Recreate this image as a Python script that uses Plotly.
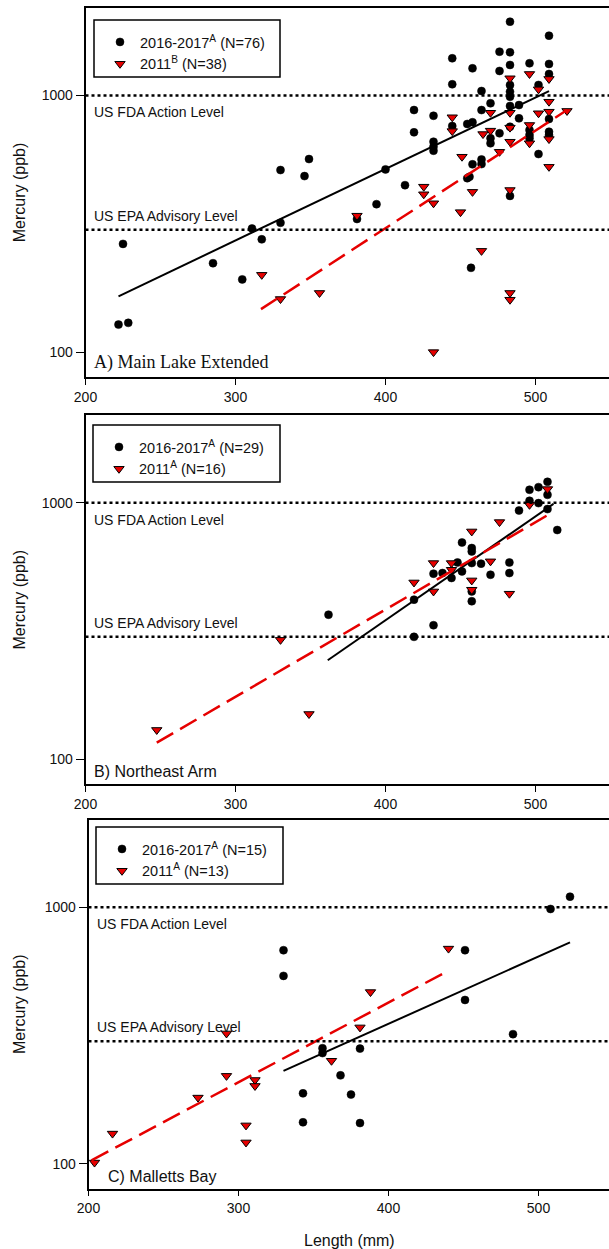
import numpy as np
import plotly.graph_objects as go

W, H = 609, 1249

# ---------------- data (Length mm, Mercury ppb) ----------------
# Panel A: Main Lake Extended
a16_len = [222, 228.5, 225, 285, 304.5, 311, 317.5, 330, 330, 346, 349, 381, 394, 400, 413,
           419, 419, 432, 432, 432, 432, 444.5, 444.5, 444.5, 454.5, 458, 458, 458, 456, 454.5,
           464, 464, 464, 464, 470, 470, 470, 476, 476, 476, 483, 483, 483, 483, 483, 483, 483,
           483, 483, 489, 489, 496, 496, 496, 496, 502, 502, 509, 509, 509, 509, 509, 509, 457]
a16_hg = [128, 130, 264, 222, 192, 303, 275, 512, 319, 485, 565, 330, 377, 515, 447,
          877, 718, 833, 660, 631, 609, 1395, 1105, 760, 774, 786, 1275, 539, 482, 476,
          1040, 877, 563, 540, 932, 681, 651, 1480, 1245, 712, 1937, 1472, 1314, 1097, 1034, 988, 909,
          755, 406, 917, 814, 1334, 733, 701, 681, 1098, 591, 1709, 1326, 1212, 809, 722, 701, 213]
a11_len = [317.5, 330, 356, 381, 425.5, 425.5, 432, 432, 444.5, 444.5, 458, 465, 470, 470, 476,
           483, 483, 483, 483, 483, 496, 496, 496, 502, 502, 509, 509, 509, 509, 509, 521, 451,
           450, 464, 483, 483]
a11_hg = [200, 161, 170, 340, 441, 412, 380, 100, 822, 726, 421, 707, 856, 729, 603,
          1166, 856, 749, 660, 428, 1212, 767, 651, 1056, 852, 1159, 945, 864, 676, 527, 870, 577,
          351, 248, 170, 160]
a16_fit_len = [222, 509]
a16_fit_hg = [165, 1040]
a11_fit_len = [317, 521]
a11_fit_hg = [147, 877]

# Panel B: Northeast Arm
b16_len = [508, 502, 496, 508, 496, 502, 489, 508, 514.5, 451, 457.5, 457.5, 448, 451, 444,
           438, 432, 457.5, 463.7, 470, 482.6, 482.6, 457.5, 457.5, 419, 432, 419, 362]
b16_hg = [1207, 1151, 1124, 1074, 1018, 997, 933, 945, 783, 700, 666, 646, 585, 540, 509,
          532, 529, 582, 579, 524, 585, 532, 451, 413, 419, 333, 300, 366]
b11_len = [508, 496, 476, 457.5, 470, 432, 444, 444, 419, 432, 457.5, 457.5, 482.6, 330, 349, 247.5]
b11_hg = [1131, 982, 841, 773, 591, 582, 582, 548, 489, 451, 498, 458, 442, 292, 150, 130]
b16_fit_len = [361.5, 512]
b16_fit_hg = [243, 990]
b11_fit_len = [247.5, 508.5]
b11_fit_hg = [116, 898]

# Panel C: Malletts Bay
c16_len = [508, 521, 451, 451, 483, 330, 330, 356, 356, 381, 368, 343, 375, 343, 381]
c16_hg = [985, 1100, 680, 435, 320, 680, 540, 282, 270, 281, 221, 188, 186, 145, 144]
c11_len = [440, 388, 381, 292, 362, 292, 311, 311, 273, 305, 305, 216, 204]
c11_hg = [690, 467, 340, 322, 252, 220, 212, 201, 181, 141, 121, 131, 101]
c16_fit_len = [330, 521]
c16_fit_hg = [230, 730]
c11_fit_len = [202, 436]
c11_fit_hg = [103, 550]

levels = [1000, 300]
level_names = ["US FDA Action Level", "US EPA Advisory Level"]
x_ticks = [200, 300, 400, 500]
y_ticks = [100, 1000]

legend_names = [("2016-2017<sup>A</sup> (N=76)", "2011<sup>B</sup> (N=38)"),
                ("2016-2017<sup>A</sup> (N=29)", "2011<sup>A</sup> (N=16)"),
                ("2016-2017<sup>A</sup> (N=15)", "2011<sup>A</sup> (N=13)")]
panel_labels = ["A) Main Lake Extended", "B) Northeast Arm", "C) Malletts Bay"]

panels = [
    (a16_len, a16_hg, a11_len, a11_hg, a16_fit_len, a16_fit_hg, a11_fit_len, a11_fit_hg),
    (b16_len, b16_hg, b11_len, b11_hg, b16_fit_len, b16_fit_hg, b11_fit_len, b11_fit_hg),
    (c16_len, c16_hg, c11_len, c11_hg, c16_fit_len, c16_fit_hg, c11_fit_len, c11_fit_hg),
]

# ---------------- layout geometry (pixels) ----------------
frame_left = [85.5, 85.5, 88.5]
frame_top = [7.5, 415.0, 819.5]
frame_bot = [377.0, 784.0, 1188.5]
legend_box = [(94, 20, 280, 77), (93, 425, 280, 482), (96, 827, 283, 884)]

RED = "#e60000"
SANS = "Liberation Sans, Arial, sans-serif"
SERIF = "Liberation Serif, Times New Roman, serif"

def fx(p):
    return p / W

def fy(p):
    return 1 - p / H

fig = go.Figure()
layout = dict(width=W, height=H, margin=dict(l=0, r=0, t=0, b=0),
              paper_bgcolor="white", plot_bgcolor="white", showlegend=True,
              font=dict(family=SANS, size=14, color="#111"))
shapes = []
annotations = []

for i, (l16, h16, l11, h11, f16x, f16y, f11x, f11y) in enumerate(panels):
    sfx = "" if i == 0 else str(i + 1)
    xa, ya = "x" + sfx, "y" + sfx
    leg = "legend" + sfx
    n16, n11 = legend_names[i]

    fig.add_trace(go.Scatter(x=l16, y=h16, mode="markers", name=n16, xaxis=xa, yaxis=ya,
                             legend=leg,
                             marker=dict(symbol="circle", size=8, color="black",
                                         line=dict(color="black", width=0.5))))
    fig.add_trace(go.Scatter(x=l11, y=h11, mode="markers", name=n11, xaxis=xa, yaxis=ya,
                             legend=leg,
                             marker=dict(symbol="triangle-down", size=9, color=RED,
                                         line=dict(color="black", width=1))))
    fig.add_trace(go.Scatter(x=f16x, y=f16y, mode="lines", xaxis=xa, yaxis=ya, showlegend=False,
                             line=dict(color="black", width=2)))
    fig.add_trace(go.Scatter(x=f11x, y=f11y, mode="lines", xaxis=xa, yaxis=ya, showlegend=False,
                             line=dict(color=RED, width=2.5, dash="19px,8px")))

    x_end = 200 + (W - frame_left[i]) / 1.5
    layout["xaxis" + sfx] = dict(
        domain=[fx(frame_left[i]), 1], range=[200, x_end], anchor=ya,
        tickvals=x_ticks, ticktext=[str(v) for v in x_ticks], ticks="outside", ticklen=6,
        tickwidth=1.2, tickcolor="black", showline=True, linecolor="black", linewidth=1.6,
        mirror=True, showgrid=False, zeroline=False, automargin=False,
        tickfont=dict(family=SANS, size=14, color="#111"))
    layout["yaxis" + sfx] = dict(
        domain=[fy(frame_bot[i]), fy(frame_top[i])], type="log",
        range=[np.log10(80), np.log10(2200)], anchor=xa,
        tickvals=y_ticks, ticktext=[str(v) for v in y_ticks], ticks="outside", ticklen=8,
        tickwidth=1.2, tickcolor="black", showline=True, linecolor="black", linewidth=1.6,
        mirror=False, showgrid=False, zeroline=False, automargin=False,
        tickfont=dict(family=SANS, size=14, color="#111"))

    bx0, by0, bx1, by1 = legend_box[i]
    shapes.append(dict(type="rect", xref="paper", yref="paper", x0=fx(bx0), x1=fx(bx1),
                       y0=fy(by1), y1=fy(by0), line=dict(color="black", width=1.5)))
    layout[leg] = dict(x=fx(bx0 + 6), y=fy(by0 + 6), xanchor="left", yanchor="top",
                       bgcolor="rgba(0,0,0,0)", borderwidth=0,
                       font=dict(family=SANS, size=14.5, color="#111"), tracegroupgap=0)

    for lv, nm in zip(levels, level_names):
        shapes.append(dict(type="line", xref=xa + " domain", yref=ya, x0=0, x1=1, y0=lv, y1=lv,
                           line=dict(color="black", width=2.5, dash="dot")))
        annotations.append(dict(text=nm, xref=xa + " domain", yref=ya, x=0, y=np.log10(lv),
                                xanchor="left", yanchor="middle", xshift=6,
                                yshift=-17 if lv == 1000 else 14, showarrow=False,
                                font=dict(family=SANS, size=14, color="#111")))

    annotations.append(dict(text=panel_labels[i], xref=xa + " domain", yref=ya + " domain",
                            x=0, y=0, xanchor="left", yanchor="bottom",
                            xshift=6 if i < 2 else 17, yshift=2, showarrow=False,
                            font=dict(family=SERIF if i == 0 else SANS,
                                      size=18 if i == 0 else 16, color="#111")))
    annotations.append(dict(text="Mercury (ppb)", xref="paper", yref="paper", x=fx(19),
                            y=fy((frame_top[i] + frame_bot[i]) / 2), textangle=-90,
                            xanchor="center", yanchor="middle", showarrow=False,
                            font=dict(family=SANS, size=16, color="#111")))

annotations.append(dict(text="Length (mm)", xref="paper", yref="paper", x=fx(349), y=fy(1240),
                        xanchor="center", yanchor="middle", showarrow=False,
                        font=dict(family=SANS, size=16, color="#111")))

layout["shapes"] = shapes
layout["annotations"] = annotations
fig.update_layout(**layout)
fig.write_html("out.html")
